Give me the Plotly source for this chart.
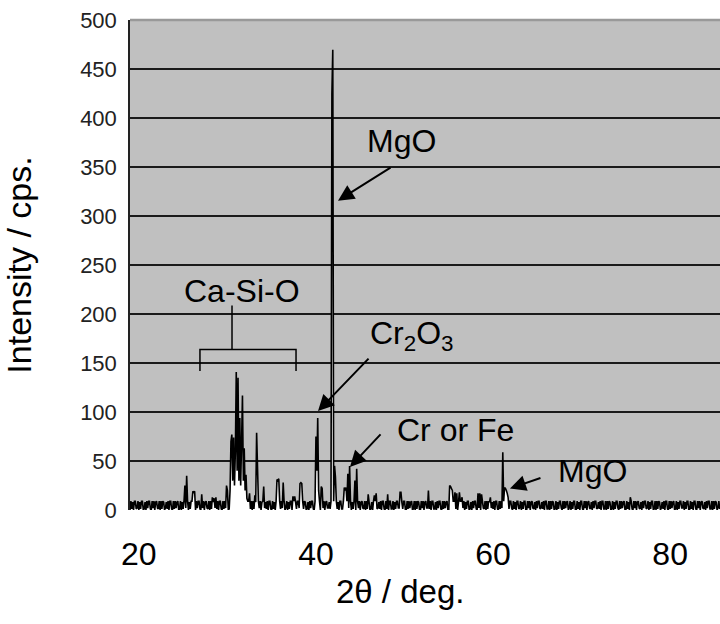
import plotly.graph_objects as go

# ---- data ----
scan_start = 19.0   # deg, 2-theta of first step
scan_step = 0.1     # deg

# baseline noise (cps), one value per step
baseline = [
    0,9,1,8,0,9,9,1, 2,9,0,8,1,9,9,0,
    1,8,0,9,2,9,9,1, 0,9,2,9,0,8,9,2,
    1,9,0,9,1,9,8,0, 2,8,1,9,0,9,9,1,
    0,9,1,9,2,8,9,0, 1,9,0,8,1,9,9,2,
    2,9,0,8,1,9,9,0, 1,8,0,9,2,9,9,1,
    0,9,2,9,0,8,9,2, 1,9,0,9,1,9,8,0,
    2,8,1,9,0,9,9,1, 0,9,1,9,2,8,9,0,
    1,9,0,8,1,9,9,2, 0,9,1,8,0,9,9,1,
    1,8,0,9,2,9,9,1, 1,9,0,9,1,9,8,0,
    0,9,2,9,0,8,9,2, 2,8,1,9,0,9,9,1,
    0,9,1,8,0,9,9,1, 0,9,1,9,2,8,9,0,
    2,9,0,8,1,9,9,0, 1,9,0,8,1,9,9,2,
    1,9,0,9,1,9,8,0, 1,8,0,9,2,9,9,1,
    0,9,1,9,2,8,9,0, 0,9,2,9,0,8,9,2,
    2,8,1,9,0,9,9,1, 0,9,1,8,0,9,9,1,
    1,9,0,8,1,9,9,2, 2,9,0,8,1,9,9,0,
    0,9,2,9,0,8,9,2, 1,9,0,9,1,9,8,0,
    1,8,0,9,2,9,9,1, 2,8,1,9,0,9,9,1,
    0,9,1,8,0,9,9,1, 1,9,0,8,1,9,9,2,
    2,9,0,8,1,9,9,0, 0,9,1,9,2,8,9,0,
    1,9,0,9,1,9,8,0, 0,9,2,9,0,8,9,2,
    2,8,1,9,0,9,9,1, 1,8,0,9,2,9,9,1,
    0,9,1,9,2,8,9,0, 0,9,1,8,0,9,9,1,
    1,9,0,8,1,9,9,2, 2,9,0,8,1,9,9,0,
    1,8,0,9,2,9,9,1, 0,9,2,9,0,8,9,2,
    1,9,0,9,1,9,8,0, 2,8,1,9,0,9,9,1,
    0,9,1,9,2,8,9,0, 1,9,0,8,1,9,9,2,
    0,9,1,8,0,9,9,1, 2,9,0,8,1,9,9,0,
    0,9,2,9,0,8,9,2, 1,8,0,9,2,9,9,1,
    2,8,1,9,0,9,9,1, 1,9,0,9,1,9,8,0,
    1,9,0,8,1,9,9,2, 0,9,1,9,2,8,9,0,
    2,9,0,8,1,9,9,0, 0,9,1,8,0,9,9,1,
    0,9,2,9,0,8,9,2, 1,8,0,9,2,9,9,1,
    2,8,1,9,0,9,9,1, 1,9,0,9,1,9,8,0,
    1,9,0,8,1,9,9,2, 0,9,1,9,2,8,9,0,
    0,9,1,8,0,9,9,1, 0,9,2,9,0,8,9,2,
    1,8,0,9,2,9,9,1, 2,9,0,8,1,9,9,0,
    1,9,0,9,1,9,8,0, 2,8,1,9,0,9,9,1,
    0,9,1,9,2,8,9,0, 1,9,0,8,1,9,9,2,
    2,9,0,8,1,9,9,0, 0,9,1,8,0,9,9,1,
    0,9,2,9,0,8,9,2, 1,8,0,9,2,9,9,1,
    1,9,0,9,1,9,8,0, 2,9,1,
]

# diffraction peaks: 2-theta (deg) and intensity (cps)
peak_2theta = [
    25.2, 25.4, 26.1, 26.2, 26.3, 27.1, 28.3, 28.5, 28.7, 29.9, 30.0,
    30.3, 30.4, 30.5, 30.6, 30.7, 30.8, 30.9, 31.0, 31.1, 31.2, 31.3,
    31.4, 31.5, 31.6, 31.7, 31.8, 31.9, 32.0, 32.1, 32.2, 32.5, 33.1,
    33.3, 33.4, 34.1, 35.6, 35.7, 35.8, 36.3, 37.4, 37.6, 38.2, 38.3,
    38.4, 40.0, 40.1, 40.2, 40.3, 40.6, 40.7, 41.8, 41.9, 42.1, 42.2,
    43.2, 43.3, 43.4, 43.6, 43.8, 44.4, 44.6, 45.9, 46.6, 46.8, 48.1,
    49.5, 49.6, 52.7, 55.1, 55.2, 55.3, 55.4, 55.7, 55.9, 56.2, 56.5,
    58.3, 58.5, 58.7, 59.7, 61.1, 61.3, 61.4, 61.5, 61.6, 61.7, 75.5,
]
peak_intensity = [
    25, 35, 19, 18, 19, 16, 13, 12, 13, 25, 20,
    20, 70, 77, 30, 74, 25, 60, 141, 40, 135, 30,
    94, 25, 70, 117, 30, 63, 20, 36, 12, 17, 15,
    79, 44, 24, 31, 30, 32, 28, 14, 14, 27, 28,
    27, 75, 40, 94, 20, 24, 22, 425, 470, 45, 34,
    23, 20, 23, 37, 45, 30, 42, 16, 15, 17, 16,
    18, 18, 20, 25, 24, 22, 20, 18, 17, 18, 13,
    17, 17, 16, 13, 59, 23, 22, 20, 17, 13, 13,
]

y_ticks = [0, 50, 100, 150, 200, 250, 300, 350, 400, 450, 500]
x_ticks = [20, 40, 60, 80]
x_range = [19.0, 85.63]
y_range = [0, 500.5]

# ---- build the pattern ----
intensity = list(baseline)
two_theta = [round(scan_start + scan_step * i, 2) for i in range(len(intensity))]
for t, v in zip(peak_2theta, peak_intensity):
    k = int(round((t - scan_start) / scan_step))
    if 0 <= k < len(intensity):
        intensity[k] = v

FONT = "Liberation Sans, Arial, sans-serif"

fig = go.Figure()
fig.add_trace(go.Scatter(
    x=two_theta, y=intensity, mode="lines",
    line=dict(color="black", width=1.6, simplify=False),
    fill="tozeroy", fillcolor="white",
    hoverinfo="skip", showlegend=False,
))

# labels (text, x, y)
labels = [
    ("MgO", 49.7, 377),
    ("Ca-Si-O", 31.65, 224),
    ("Cr<sub>2</sub>O<sub>3</sub>", 50.9, 178),
    ("Cr or Fe", 55.8, 82),
    ("MgO", 71.2, 40),
]
annotations = []
for txt, x, y in labels:
    annotations.append(dict(
        text=txt, x=x, y=y, xref="x", yref="y", showarrow=False,
        xanchor="center", yanchor="middle",
        font=dict(family=FONT, size=32, color="black"),
    ))

# x-axis title (placed as in the reference, slightly left of centre)
annotations.append(dict(
    text="2θ / deg.", x=0.4576, y=-0.167, xref="paper", yref="paper",
    showarrow=False, xanchor="center", yanchor="middle",
    font=dict(family=FONT, size=33, color="black"),
))

# arrows: head (x, y) and tail offset in px
arrows = [
    (42.49, 316, 54, -34),
    (40.23, 101, 52, -54),
    (43.84, 44, 32, -34),
    (61.91, 22, 32, -11),
]
for x, y, ax, ay in arrows:
    annotations.append(dict(
        text="", x=x, y=y, xref="x", yref="y", ax=ax, ay=ay,
        showarrow=True, arrowhead=2, arrowsize=1.6, arrowwidth=2,
        arrowcolor="black", standoff=0,
    ))

# bracket for Ca-Si-O
bracket_x = [26.9, 30.52, 37.75]
bracket_y = [142, 164, 209]
shapes = [
    dict(type="path", xref="x", yref="y",
         path=f"M {bracket_x[0]},{bracket_y[0]} L {bracket_x[0]},{bracket_y[1]} "
              f"L {bracket_x[2]},{bracket_y[1]} L {bracket_x[2]},{bracket_y[0]}",
         line=dict(color="black", width=1.5)),
    dict(type="line", xref="x", yref="y",
         x0=bracket_x[1], x1=bracket_x[1], y0=bracket_y[1], y1=bracket_y[2],
         line=dict(color="black", width=1.5)),
    dict(type="line", xref="paper", yref="paper", x0=0, x1=1, y0=1, y1=1,
         line=dict(color="#999999", width=2.5), layer="above"),
]

fig.update_layout(
    width=720, height=624,
    margin=dict(l=130, r=0, t=20, b=114, autoexpand=False),
    paper_bgcolor="white", plot_bgcolor="#C0C0C0",
    font=dict(family=FONT, color="black"),
    showlegend=False,
    annotations=annotations, shapes=shapes,
    xaxis=dict(
        range=x_range, tickmode="array", tickvals=x_ticks,
        ticktext=[str(v) for v in x_ticks],
        showgrid=False, zeroline=False, showline=False, ticks="",
        tickfont=dict(family=FONT, size=32, color="black"),
        ticklabelstandoff=22, automargin=False,
    ),
    yaxis=dict(
        range=y_range, tickmode="array", tickvals=y_ticks,
        ticktext=[str(v) for v in y_ticks],
        showgrid=True, gridcolor="#1a1a1a", gridwidth=1.5,
        zeroline=False, showline=True, linecolor="#222222", linewidth=1.5,
        ticks="", tickfont=dict(family=FONT, size=22, color="#222222"),
        ticklabelstandoff=7, automargin=False,
        title=dict(text="Intensity / cps.", font=dict(family=FONT, size=34),
                   standoff=40),
    ),
)

fig.write_html(
    "out.html",
    config={"displayModeBar": False},
    post_script="document.body.style.margin='0px';"
                "document.body.style.overflow='hidden';",
)
